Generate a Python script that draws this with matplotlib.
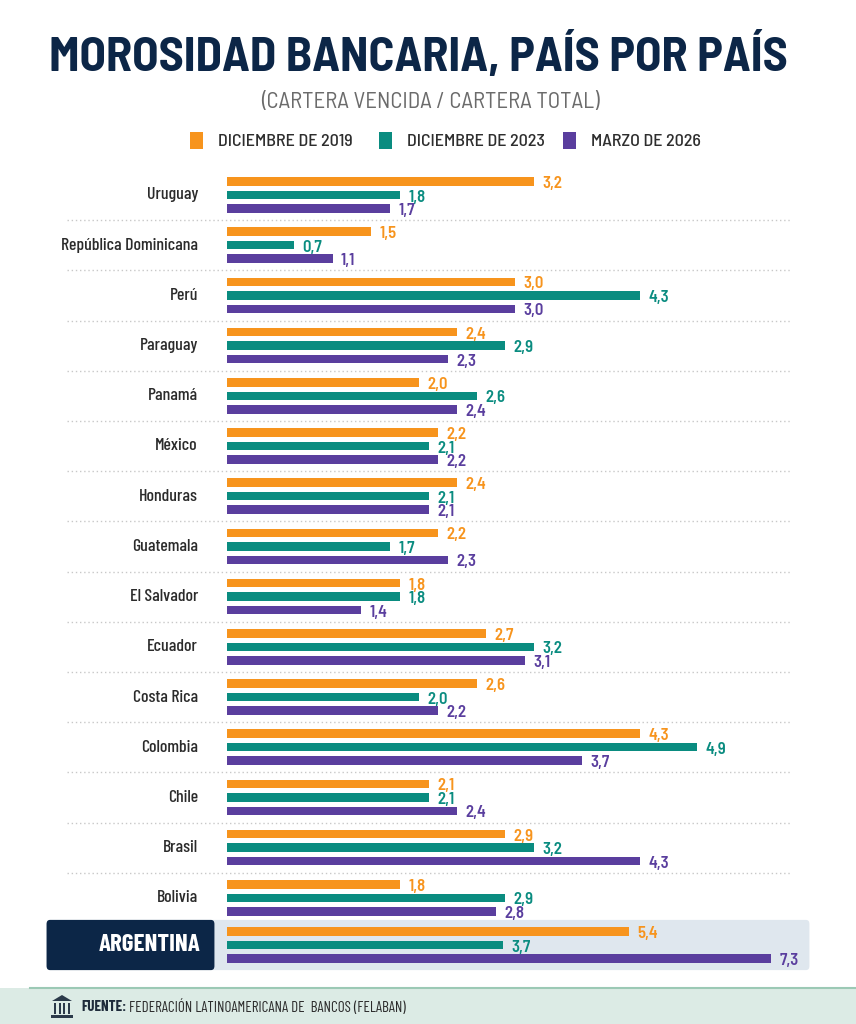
import numpy as np
import matplotlib.pyplot as plt
import matplotlib.transforms as mtransforms
from matplotlib.patches import FancyBboxPatch, Rectangle, Polygon

# 1. DATOS
paises = ['Uruguay', 'República Dominicana', 'Perú', 'Paraguay', 'Panamá', 'México',
          'Honduras', 'Guatemala', 'El Salvador', 'Ecuador', 'Costa Rica', 'Colombia',
          'Chile', 'Brasil', 'Bolivia']
dic_2019 = [3.2, 1.5, 3.0, 2.4, 2.0, 2.2, 2.4, 2.2, 1.8, 2.7, 2.6, 4.3, 2.1, 2.9, 1.8]
dic_2023 = [1.8, 0.7, 4.3, 2.9, 2.6, 2.1, 2.1, 1.7, 1.8, 3.2, 2.0, 4.9, 2.1, 3.2, 2.9]
mar_2026 = [1.7, 1.1, 3.0, 2.3, 2.4, 2.2, 2.1, 2.3, 1.4, 3.1, 2.2, 3.7, 2.4, 4.3, 2.8]

argentina = [5.4, 3.7, 7.3]
series = ['DICIEMBRE DE 2019', 'DICIEMBRE DE 2023', 'MARZO DE 2026']
colores = ['#F7941D', '#0A8C80', '#5A3E9E']

# 2. ESTILO
W, H = 856, 1024
COND = ['Barlow Condensed', 'Roboto Condensed', 'DejaVu Sans']
SEMI = ['Barlow Semi Condensed', 'Barlow Condensed', 'Roboto Condensed', 'DejaVu Sans']
plt.rcParams['font.family'] = COND
NAVY = '#0C2647'

fig = plt.figure(figsize=(W / 100, H / 100), dpi=100)
fig.patch.set_facecolor('white')


def px(x, y):
    # pixeles (desde arriba) -> fraccion de figura
    return x / W, 1 - y / H


def axes_px(left, top, right, bottom):
    return fig.add_axes([left / W, 1 - bottom / H, (right - left) / W, (bottom - top) / H])


# Titulo y subtitulo
fig.text(*px(418, 57), 'MOROSIDAD BANCARIA, PAÍS POR PAÍS', ha='center', va='center',
         fontsize=34.8, fontweight='bold', color=NAVY, family=SEMI)
fig.text(*px(430, 102), '(CARTERA VENCIDA / CARTERA TOTAL)', ha='center', va='center',
         fontsize=16.5, color='#6B6B6B', family=SEMI)

# Leyenda
leg_x = [196, 385, 569]
for lx, nombre, c in zip(leg_x, series, colores):
    fig.patches.append(Rectangle(px(lx - 6, 149), 13 / W, 17 / H, transform=fig.transFigure,
                                 facecolor=c, edgecolor='none'))
    fig.text(*px(lx + 22, 141), nombre, ha='left', va='center', fontsize=13,
             fontweight='medium', color='#2E2E2E', family=SEMI)

# 3. PANEL PRINCIPAL
row_px = 50.2
top_c = 195
n = len(paises)
ax = axes_px(227, top_c - row_px / 2, 227 + 6.6 * 96, top_c + (n - 0.5) * row_px)
ax.set_xlim(0, 6.6)
ax.set_ylim(n - 0.5, -0.5)
ax.axis('off')

y = np.arange(n)
off = 13.5 / row_px
alto = 8.5 / row_px
for k, (vals, c) in enumerate(zip([dic_2019, dic_2023, mar_2026], colores)):
    yy = y + (k - 1) * off
    ax.barh(yy, vals, height=alto, color=c)
    for yi, v in zip(yy, vals):
        ax.annotate(f'{v:.1f}'.replace('.', ','), (v, yi), xytext=(6, -1.5),
                    textcoords='offset points', ha='left', va='center', family=SEMI,
                    fontsize=12, fontweight='semibold', color=c)

trans = mtransforms.blended_transform_factory(fig.transFigure, ax.transData)
for i in range(n):
    fig.text(198 / W, i, paises[i], transform=trans, ha='right', va='center',
             fontsize=12.8, fontweight='medium', color='#2B2B2B')
for i in range(n - 1):
    fig.lines.append(plt.Line2D([67 / W, 790 / W], [i + 0.5, i + 0.5], transform=trans,
                                color='#C8C8C8', linewidth=1, linestyle=(0, (1, 2))))

# 4. ARGENTINA
fig.patches.append(FancyBboxPatch(px(50, 966), 756 / W, 42 / H, transform=fig.transFigure,
                                  boxstyle='round,pad=0.004', facecolor='#DFE7EE',
                                  edgecolor='none', zorder=-2))
fig.patches.append(FancyBboxPatch(px(50, 966), 161 / W, 42 / H, transform=fig.transFigure,
                                  boxstyle='round,pad=0.004', facecolor=NAVY,
                                  edgecolor='none', zorder=-1))
fig.text(*px(200, 945), 'ARGENTINA', ha='right', va='center', fontsize=18,
         fontweight='bold', color='white')

ax2 = axes_px(227, 945 - row_px / 2, 856, 945 + row_px / 2)
ax2.set_xlim(0, (856 - 227) / 74.5)
ax2.set_ylim(0.5, -0.5)
ax2.axis('off')
for k, (v, c) in enumerate(zip(argentina, colores)):
    yk = (k - 1) * off
    ax2.barh(yk, v, height=alto, color=c)
    ax2.annotate(f'{v:.1f}'.replace('.', ','), (v, yk), xytext=(6, -1.5),
                 textcoords='offset points', ha='left', va='center', family=SEMI,
                 fontsize=12, fontweight='semibold', color=c)

# 5. PIE / FUENTE
fig.patches.append(Rectangle(px(0, 1024), 1, 36 / H, transform=fig.transFigure,
                             facecolor='#DCEBE5', edgecolor='none', zorder=-2))
fig.lines.append(plt.Line2D([30 / W, 1], [1 - 988 / H] * 2, transform=fig.transFigure,
                            color='#9CC9B5', linewidth=1.5))
# icono de banco
fig.patches.append(Polygon([px(52, 1001), px(62, 995), px(72, 1001)], closed=True,
                           transform=fig.transFigure, facecolor='#2B3A4A'))
for cx in [55, 59.5, 64, 68.5]:
    fig.patches.append(Rectangle(px(cx - 1, 1014), 2 / W, 11 / H, transform=fig.transFigure,
                                 facecolor='#2B3A4A'))
fig.patches.append(Rectangle(px(51, 1018), 22 / W, 3 / H, transform=fig.transFigure,
                             facecolor='#2B3A4A'))
t_fuente = fig.text(*px(81, 1007), 'FUENTE:', ha='left', va='center', fontsize=10.8,
                    fontweight='bold', color='#1E2B3A')
r = fig.canvas.get_renderer()
x_fin = t_fuente.get_window_extent(r).x1
fig.text(x_fin / W + 3 / W, 1 - 1007 / H, 'FEDERACIÓN LATINOAMERICANA DE  BANCOS (FELABAN)',
         ha='left', va='center', fontsize=10.8, color='#2B2B2B')

fig.savefig('out.png', dpi=100)
